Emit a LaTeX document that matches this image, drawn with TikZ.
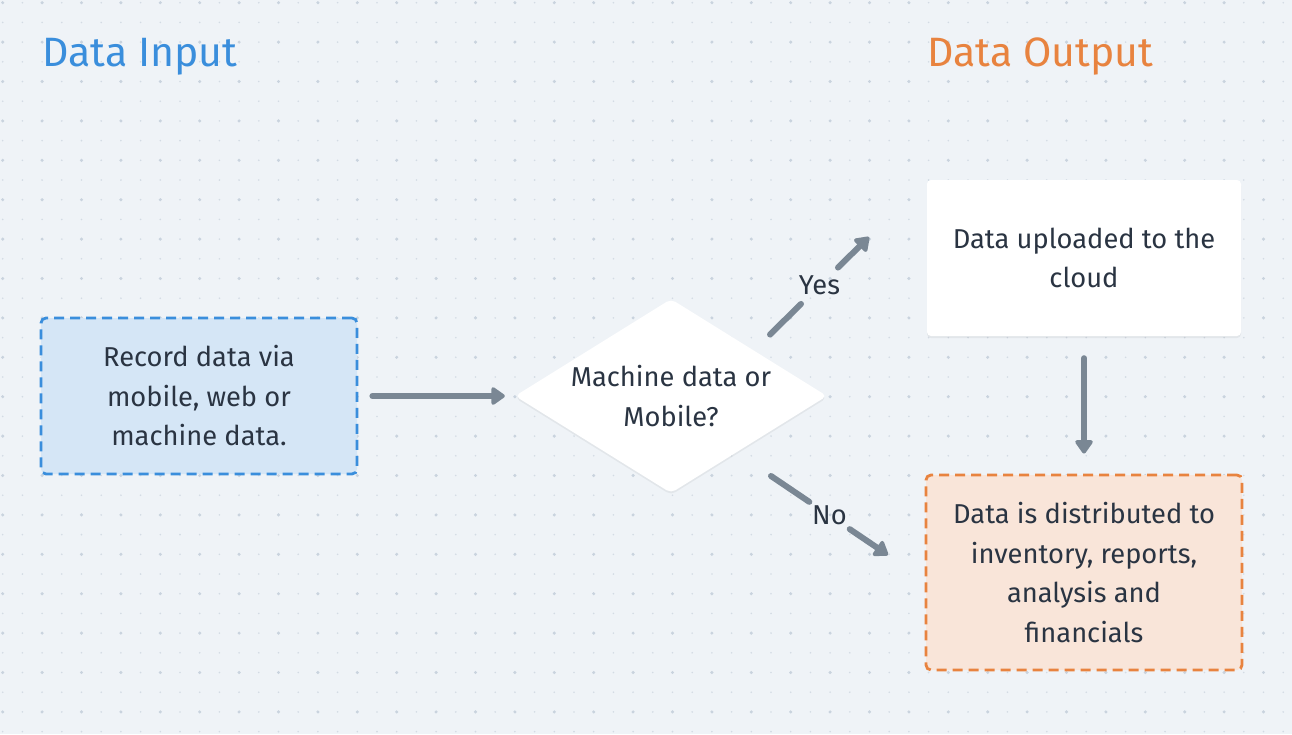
\documentclass[tikz,border=0pt]{standalone}
\usepackage{fontspec}
\setmainfont{Fira Sans}
\usetikzlibrary{arrows.meta,shapes.geometric,shadows}
\definecolor{bgc}{HTML}{EFF3F7}
\definecolor{dotc}{HTML}{D3DBE4}
\definecolor{bigdotc}{HTML}{C9D3DE}
\definecolor{inblue}{HTML}{3A8EDC}
\definecolor{inbluefill}{HTML}{D5E6F6}
\definecolor{outorange}{HTML}{E8833F}
\definecolor{outfill}{HTML}{F9E5D9}
\definecolor{txt}{HTML}{2A3442}
\definecolor{arr}{HTML}{7A8794}
\tikzset{
  bodytext/.style={font=\fontsize{27.3}{39.5}\selectfont, text=txt, align=center},
  titletext/.style={font=\fontsize{41}{50}\selectfont, anchor=base west, inner sep=0pt},
  inbox/.style={bodytext, draw=inblue, fill=inbluefill, line width=2.8pt, dash pattern=on 10pt off 6pt, rounded corners=5pt, minimum width=316pt, minimum height=156pt},
  outbox/.style={bodytext, draw=outorange, fill=outfill, line width=2.8pt, dash pattern=on 10pt off 6pt, rounded corners=5pt, minimum width=316pt, minimum height=195pt},
  whitebox/.style={bodytext, fill=white, rounded corners=4pt, minimum width=314pt, minimum height=156pt, drop shadow={shadow xshift=0pt, shadow yshift=-2pt, opacity=0.05, fill=black}},
  decision/.style={shape=diamond, fill=white, minimum width=312pt, minimum height=194pt, inner sep=0pt, rounded corners=5pt, drop shadow={shadow xshift=0pt, shadow yshift=-2pt, opacity=0.05, fill=black}},
  conn/.style={draw=arr, line width=6pt, line cap=round, -{Triangle[length=15pt,width=20pt,round]}},
  plainconn/.style={draw=arr, line width=6pt, line cap=round},
  lbl/.style={bodytext, inner sep=0pt, minimum height=36pt, minimum width=40pt}
}
\begin{document}
\begin{tikzpicture}[x=1pt,y=-1pt]
\fill[bgc] (0,0) rectangle (1292,734);
\useasboundingbox (0,0) rectangle (1292,734);
\foreach \i in {0,...,65} {
  \foreach \j in {0,...,37} {
    \fill[dotc] (2.7+19.7*\i, 2.7+19.7*\j) circle (0.9);
  }
}
\foreach \i in {0,2,...,64} {
  \foreach \j in {0,2,...,36} {
    \fill[bigdotc] (2.7+19.7*\i, 2.7+19.7*\j) circle (1.7);
  }
}
% titles
\node[titletext, text=inblue] (tin) at (42,66) {Data Input};
\node[titletext, text=outorange] (tout) at (927,66) {Data Output};
% nodes
\node[inbox] (rec) at (199,396) {Record data via\\mobile, web or\\machine data.};
\node[decision] (dec) at (671,396) {};
\node[bodytext] (dect) at (dec) {Machine data or\\Mobile?};
\node[whitebox] (up) at (1084,258) {Data uploaded to the\\cloud};
\node[outbox] (dist) at (1084,572.5) {Data is distributed to\\inventory, reports,\\analysis and\\financials};
% connectors
\draw[conn, shorten <=14pt, shorten >=10pt] (rec) -- (dec);
\draw[conn, shorten <=22pt, shorten >=20pt] (up) -- (dist);
\coordinate (ys) at (770,334.5);
\coordinate (ye) at (869,237);
\path (ys) -- node[lbl] (yes) {Yes} (ye);
\draw[plainconn] (ys) -- (yes);
\draw[conn] (yes) -- (ye);
\coordinate (ns) at (771,476);
\coordinate (ne) at (888,555);
\path (ns) -- node[lbl] (no) {No} (ne);
\draw[plainconn] (ns) -- (no);
\draw[conn] (no) -- (ne);
\end{tikzpicture}
\end{document}
